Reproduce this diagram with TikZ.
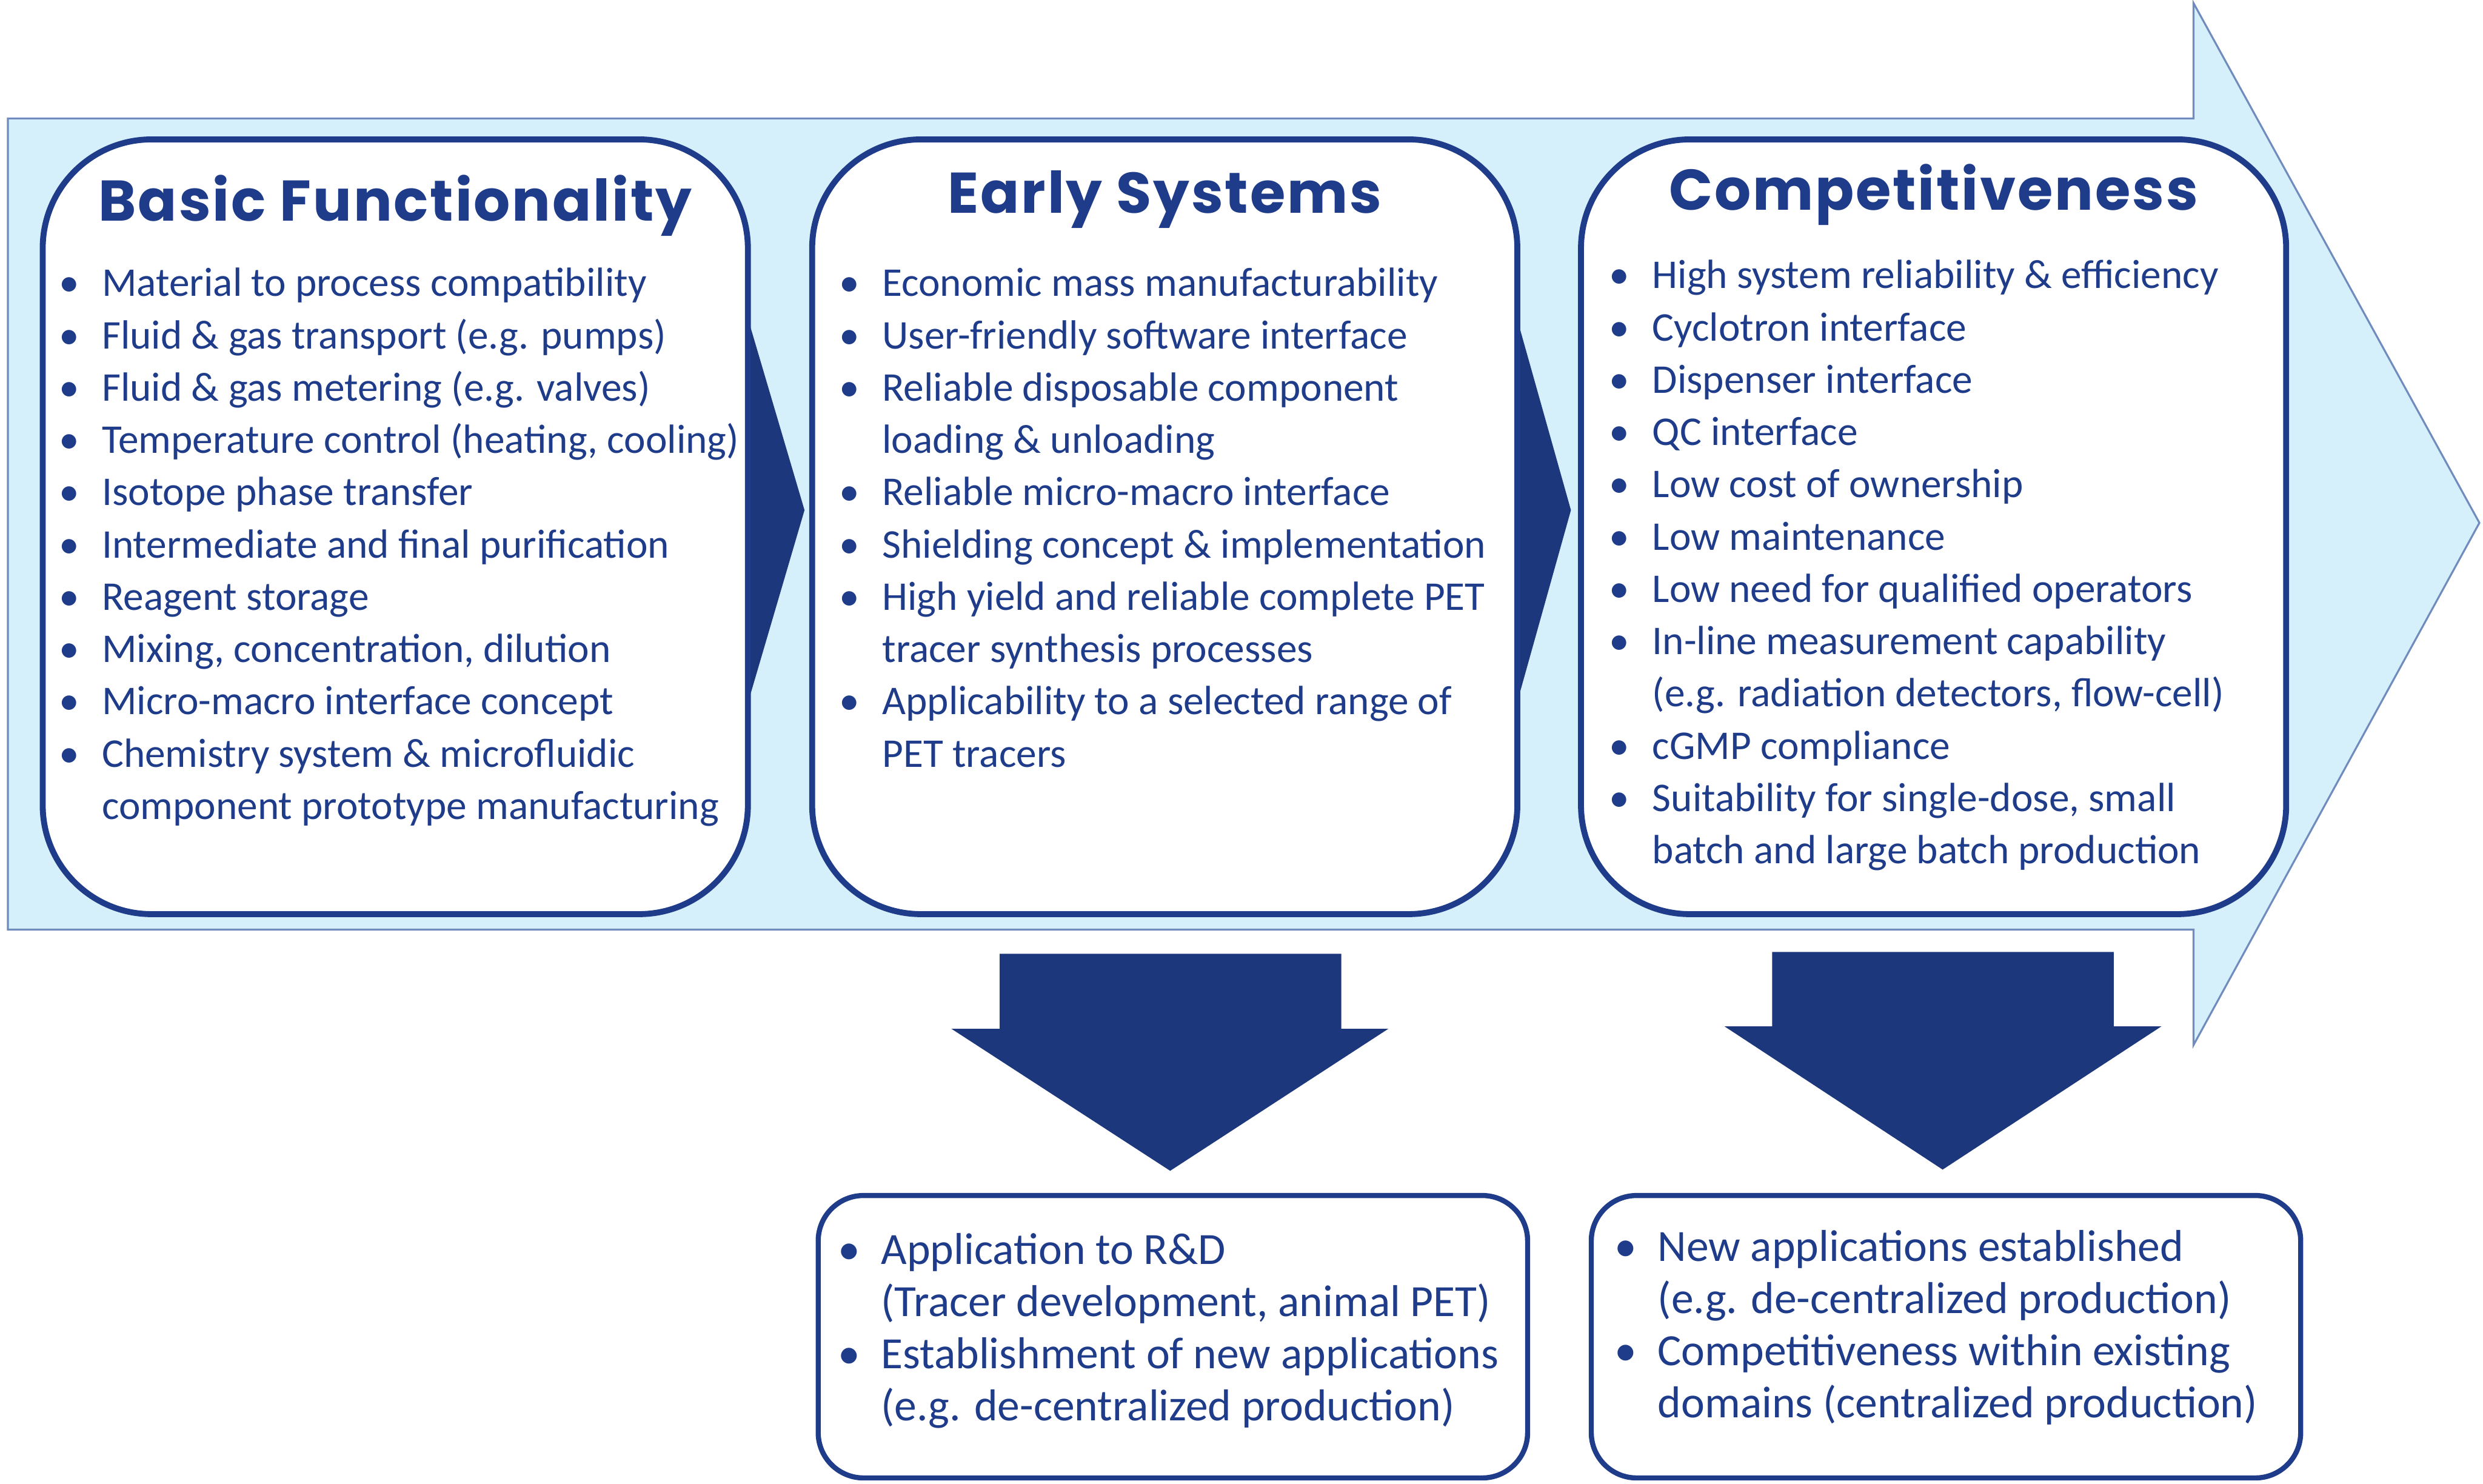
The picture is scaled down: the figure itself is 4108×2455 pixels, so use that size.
\documentclass[tikz,border=0pt]{standalone}
\usepackage{fontspec}
\setmainfont{Carlito}
\newfontfamily\headfont[LetterSpace=3]{Poppins}
\usepackage{xcolor}
\usepackage{tikz}
\usetikzlibrary{positioning, calc}

\definecolor{gedark}{RGB}{31,60,138}
\definecolor{gearrow}{RGB}{28,55,124}
\definecolor{gelight}{RGB}{213,239,251}
\definecolor{geedge}{RGB}{112,140,190}

\newcommand{\listfont}{\fontsize{19.2}{24.6}\selectfont}
\newcommand{\outfont}{\fontsize{21}{24.6}\selectfont}

\begin{document}
\begin{tikzpicture}[x=0.01cm, y=-0.01cm,
  stagebox/.style={draw=gedark, line width=2.8pt, fill=white, rounded corners=1.8cm, minimum width=11.66cm, minimum height=12.81cm},
  outbox/.style={draw=gedark, line width=2.4pt, fill=white, rounded corners=0.75cm, minimum width=11.73cm, minimum height=4.67cm},
  stagetitle/.style={text=gedark, font=\headfont\fontsize{27}{30}\selectfont\bfseries, inner sep=0pt},
  listtext/.style={text=gedark, font=\listfont, inner sep=0pt, anchor=north west},
  outtext/.style={text=gedark, font=\outfont, inner sep=0pt, anchor=north west},
  chevron/.style={fill=gearrow, draw=none},
  downarrow/.style={fill=gearrow, draw=none}]
\useasboundingbox (0,0) rectangle (4108,2455);

% big background arrow
\draw[fill=gelight, draw=geedge, line width=0.9pt] (13,196) -- (3629,196) -- (3629,5) -- (4102,865) -- (3629,1729) -- (3629,1538) -- (13,1538) -- cycle;

% chevrons between the stages
\fill[chevron] (1225,485) -- (1331,844) -- (1225,1205) -- cycle;
\fill[chevron] (2498,485) -- (2599,844) -- (2498,1205) -- cycle;

% stage boxes
\node[stagebox] (basic) at (654,871.5) {};
\node[stagebox] (early) at (1927,871.5) {};
\node[stagebox] (compet) at (3199,871.5) {};

\node[stagetitle] (basictitle) at (654,340) {Basic Functionality};
\node[stagetitle] (earlytitle) at (1927,330) {Early Systems};
\node[stagetitle] (compettitle) at (3199,322) {Competitiveness};

% Basic Functionality
\node[listtext] (basiclist) at (97,429) {%
\begin{tabular}{@{}p{0.71cm}@{}l@{}}
\textbullet & Material to process compatibility\\
\textbullet & Fluid \& gas transport (e.g. pumps)\\
\textbullet & Fluid \& gas metering (e.g. valves)\\
\textbullet & Temperature control (heating, cooling)\\
\textbullet & Isotope phase transfer\\
\textbullet & Intermediate and final purification\\
\textbullet & Reagent storage\\
\textbullet & Mixing, concentration, dilution\\
\textbullet & Micro-macro interface concept\\
\textbullet & Chemistry system \& microfluidic\\
 & component prototype manufacturing
\end{tabular}};

% Early Systems
\node[listtext] (earlylist) at (1388,429) {%
\begin{tabular}{@{}p{0.71cm}@{}l@{}}
\textbullet & Economic mass manufacturability\\
\textbullet & User-friendly software interface\\
\textbullet & Reliable disposable component\\
 & loading \& unloading\\
\textbullet & Reliable micro-macro interface\\
\textbullet & Shielding concept \& implementation\\
\textbullet & High yield and reliable complete PET\\
 & tracer synthesis processes\\
\textbullet & Applicability to a selected range of\\
 & PET tracers
\end{tabular}};

% Competitiveness
\node[listtext] (competlist) at (2662,416) {%
\begin{tabular}{@{}p{0.71cm}@{}l@{}}
\textbullet & High system reliability \& efficiency\\
\textbullet & Cyclotron interface\\
\textbullet & Dispenser interface\\
\textbullet & QC interface\\
\textbullet & Low cost of ownership\\
\textbullet & Low maintenance\\
\textbullet & Low need for qualified operators\\
\textbullet & In-line measurement capability\\
 & (e.g. radiation detectors, flow-cell)\\
\textbullet & cGMP compliance\\
\textbullet & Suitability for single-dose, small\\
 & batch and large batch production
\end{tabular}};

% arrows down to outcomes
\fill[downarrow] (1654,1578) -- (2219,1578) -- (2219,1702) -- (2297,1702) -- (1936,1937) -- (1574,1702) -- (1654,1702) -- cycle;
\fill[downarrow] (2932,1575) -- (3497,1575) -- (3497,1698) -- (3576,1698) -- (3214,1935) -- (2853,1698) -- (2932,1698) -- cycle;

% outcome boxes
\node[outbox] (rnd) at (1940.5,2211.5) {};
\node[outbox] (newapp) at (3219.5,2211.5) {};

\node[outtext] (rndlist) at (1386,2030) {%
\begin{tabular}{@{}p{0.71cm}@{}l@{}}
\textbullet & Application to R\&D\\
 & (Tracer development, animal PET)\\
\textbullet & Establishment of new applications\\
 & (e.g. de-centralized production)
\end{tabular}};

\node[outtext] (newapplist) at (2671,2025) {%
\begin{tabular}{@{}p{0.71cm}@{}l@{}}
\textbullet & New applications established\\
 & (e.g. de-centralized production)\\
\textbullet & Competitiveness within existing\\
 & domains (centralized production)
\end{tabular}};
\end{tikzpicture}
\end{document}
